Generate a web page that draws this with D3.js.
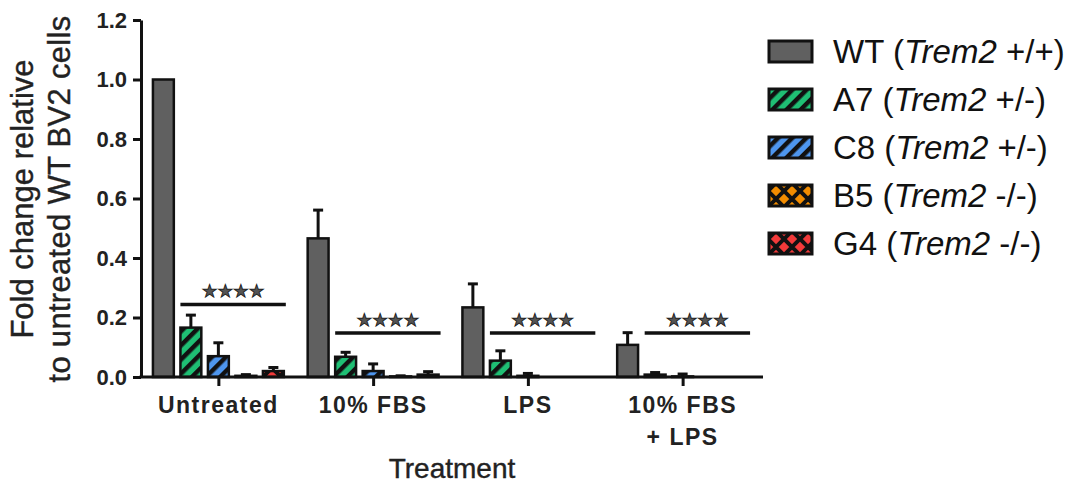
<!DOCTYPE html>
<html>
<head>
<meta charset="utf-8">
<script src="https://cdn.jsdelivr.net/npm/d3@7"></script>
<style>
  body { margin: 0; background: #fff; }
  text { font-family: "Liberation Sans", Arial, sans-serif; }
</style>
</head>
<body>
<div id="chart"></div>
<script>
var groups = ["Untreated", "10% FBS", "LPS", "10% FBS + LPS"];
var groupLabels = [["Untreated"], ["10% FBS"], ["LPS"], ["10% FBS", "+ LPS"]];
var clones = ["WT", "A7", "C8", "B5", "G4"];
var genotypes = ["+/+", "+/-", "+/-", "-/-", "-/-"];

// mean fold change per treatment, one array per clone
var wtMean = [1.0, 0.466, 0.234, 0.108];
var a7Mean = [0.166, 0.068, 0.055, 0.008];
var c8Mean = [0.070, 0.020, 0.004, 0.002];
var b5Mean = [0.004, 0.002, 0.0, 0.0];
var g4Mean = [0.020, 0.008, 0.0, 0.0];

// upper error (SEM)
var wtErr = [0, 0.095, 0.079, 0.041];
var a7Err = [0.042, 0.015, 0.033, 0.007];
var c8Err = [0.045, 0.024, 0.008, 0.008];
var b5Err = [0.004, 0.002, 0, 0];
var g4Err = [0.012, 0.010, 0, 0];

// height of the **** bar in each group
var sigLevels = [0.244, 0.148, 0.148, 0.148];
var yTicks = [0, 0.2, 0.4, 0.6, 0.8, 1.0, 1.2];

var means = [wtMean, a7Mean, c8Mean, b5Mean, g4Mean];
var errs = [wtErr, a7Err, c8Err, b5Err, g4Err];

var colour = d3.scaleOrdinal()
    .domain(clones)
    .range(["#606060", "#1fbf74", "#4e96ee", "#f28c00", "#f23a3a"]);
var hatch = ["solid", "stripe", "stripe", "cross", "cross"];

var width = 1081;
var height = 484;

var svg = d3.select("#chart")
    .append("svg")
    .attr("width", width)
    .attr("height", height);

var defs = svg.append("defs");

clones.forEach(function (c, i) {
    if (hatch[i] == "stripe") {
        var p = defs.append("pattern")
            .attr("id", "pat-" + c)
            .attr("patternUnits", "userSpaceOnUse")
            .attr("width", 10)
            .attr("height", 10)
            .attr("patternTransform", "rotate(45)");
        p.append("rect").attr("width", 10).attr("height", 10).attr("fill", colour(c));
        p.append("rect").attr("x", 0).attr("width", 4.5).attr("height", 10).attr("fill", "#111");
    } else if (hatch[i] == "cross") {
        var q = defs.append("pattern")
            .attr("id", "pat-" + c)
            .attr("patternUnits", "userSpaceOnUse")
            .attr("width", 16)
            .attr("height", 16);
        q.append("rect").attr("width", 16).attr("height", 16).attr("fill", colour(c));
        q.append("path")
            .attr("d", "M-2,-2L18,18M18,-2L-2,18")
            .attr("stroke", "#111")
            .attr("stroke-width", 4);
    }
});

function fillFor(i) {
    if (hatch[i] == "solid")
        return colour(clones[i]);
    return "url(#pat-" + clones[i] + ")";
}

var y = d3.scaleLinear()
    .domain([0, 1.2])
    .range([377, 20]);

var x = d3.scalePoint()
    .domain(groups)
    .range([141, 760])
    .padding(0.5);

var xInner = d3.scaleBand()
    .domain(clones)
    .range([-68.75, 68.75])
    .paddingInner(0.24)
    .paddingOuter(0.12);

// flatten into bar records
var bars = [];
groups.forEach(function (g, gi) {
    clones.forEach(function (c, ci) {
        bars.push({ group: g, clone: c, ci: ci, value: means[ci][gi], err: errs[ci][gi] });
    });
});

var plot = svg.append("g");

var barG = plot.selectAll("g.bar")
    .data(bars)
    .enter()
    .append("g")
    .attr("class", "bar");

// error bars (upper only) drawn under the bars
barG.filter(function (d) { return d.err > 0; })
    .append("line")
    .attr("x1", function (d) { return x(d.group) + xInner(d.clone) + xInner.bandwidth() / 2; })
    .attr("x2", function (d) { return x(d.group) + xInner(d.clone) + xInner.bandwidth() / 2; })
    .attr("y1", function (d) { return y(d.value); })
    .attr("y2", function (d) { return y(d.value + d.err); })
    .attr("stroke", "#111")
    .attr("stroke-width", 3);

barG.filter(function (d) { return d.err > 0; })
    .append("line")
    .attr("x1", function (d) { return x(d.group) + xInner(d.clone) + xInner.bandwidth() / 2 - 5; })
    .attr("x2", function (d) { return x(d.group) + xInner(d.clone) + xInner.bandwidth() / 2 + 5; })
    .attr("y1", function (d) { return y(d.value + d.err); })
    .attr("y2", function (d) { return y(d.value + d.err); })
    .attr("stroke", "#111")
    .attr("stroke-width", 3);

barG.append("rect")
    .attr("x", function (d) { return x(d.group) + xInner(d.clone); })
    .attr("y", function (d) { return y(d.value); })
    .attr("width", xInner.bandwidth())
    .attr("height", function (d) { return y(0) - y(d.value); })
    .attr("fill", function (d) { return fillFor(d.ci); })
    .attr("stroke", "#111")
    .attr("stroke-width", 2.5);

// significance lines
var sig = plot.selectAll("g.sig")
    .data(groups)
    .enter()
    .append("g")
    .attr("class", "sig");

sig.append("line")
    .attr("x1", function (d) { return x(d) + xInner("A7"); })
    .attr("x2", function (d) { return x(d) + xInner("G4") + xInner.bandwidth() + 2; })
    .attr("y1", function (d, i) { return y(sigLevels[i]); })
    .attr("y2", function (d, i) { return y(sigLevels[i]); })
    .attr("stroke", "#111")
    .attr("stroke-width", 3.5);

sig.append("text")
    .attr("x", function (d) { return x(d) + (xInner("A7") + xInner("G4") + xInner.bandwidth()) / 2 + 1; })
    .attr("y", function (d, i) { return y(sigLevels[i]) - 7; })
    .attr("text-anchor", "middle")
    .style("font-family", "'DejaVu Sans', sans-serif")
    .style("font-size", "17.5px")
    .attr("fill", "#555")
    .attr("stroke", "#222")
    .attr("stroke-width", 0.9)
    .text("★★★★");

// y axis
var yAxis = svg.append("g")
    .attr("transform", "translate(141,0)")
    .call(d3.axisLeft(y)
        .tickValues(yTicks)
        .tickFormat(d3.format(".1f"))
        .tickSize(8)
        .tickSizeOuter(0)
        .tickPadding(6));

yAxis.select(".domain").attr("stroke", "#111").attr("stroke-width", 3);
yAxis.selectAll(".tick line").attr("stroke", "#111").attr("stroke-width", 3);
yAxis.selectAll(".tick text")
    .attr("fill", "#222")
    .style("font-family", "'Liberation Sans', Arial, sans-serif")
    .style("font-size", "22px")
    .style("font-weight", "bold");

// x axis
var xAxis = svg.append("g")
    .attr("transform", "translate(0,377)")
    .call(d3.axisBottom(x).tickSize(9).tickSizeOuter(0).tickFormat(""));

xAxis.select(".domain").remove();
xAxis.append("line")
    .attr("x1", 139.5)
    .attr("x2", 763)
    .attr("stroke", "#111")
    .attr("stroke-width", 3);
xAxis.selectAll(".tick line").attr("stroke", "#111").attr("stroke-width", 3);

var xl = svg.selectAll("text.xlab")
    .data(groups)
    .enter()
    .append("text")
    .attr("class", "xlab")
    .attr("text-anchor", "middle")
    .attr("fill", "#222")
    .style("font-size", "23px")
    .style("font-weight", "bold")
    .style("letter-spacing", "1.5px");

xl.selectAll("tspan")
    .data(function (d, i) { return groupLabels[i].map(function (t) { return { g: d, t: t }; }); })
    .enter()
    .append("tspan")
    .attr("x", function (d) { return x(d.g); })
    .attr("y", function (d, i) { return 413 + i * 32; })
    .text(function (d) { return d.t; });

svg.append("text")
    .attr("x", 452)
    .attr("y", 478)
    .attr("text-anchor", "middle")
    .attr("fill", "#222")
    .attr("stroke", "#222")
    .attr("stroke-width", 0.4)
    .style("font-size", "28px")
    .text("Treatment");

// y title
var yt = svg.append("g")
    .attr("transform", "translate(33,199) rotate(-90)")
    .attr("fill", "#222")
    .attr("stroke", "#222")
    .attr("stroke-width", 0.4);
yt.append("text")
    .attr("text-anchor", "middle")
    .style("font-size", "31px")
    .text("Fold change relative");
yt.append("text")
    .attr("y", 37)
    .attr("text-anchor", "middle")
    .style("font-size", "31px")
    .style("letter-spacing", "0.3px")
    .text("to untreated WT BV2 cells");

// legend
var legend = svg.selectAll("g.legend")
    .data(clones)
    .enter()
    .append("g")
    .attr("class", "legend")
    .attr("transform", function (d, i) { return "translate(768," + (63 + i * 48) + ")"; });

legend.append("rect")
    .attr("x", 1)
    .attr("y", -22)
    .attr("width", 43)
    .attr("height", 21)
    .attr("fill", function (d, i) { return fillFor(i); })
    .attr("stroke", "#111")
    .attr("stroke-width", 3);

var lt = legend.append("text")
    .attr("x", 65)
    .attr("y", 0)
    .attr("fill", "#111")
    .style("font-size", "33px");

lt.append("tspan").text(function (d) { return d + " ("; });
lt.append("tspan").style("font-style", "italic").text("Trem2");
lt.append("tspan").text(function (d, i) { return " " + genotypes[i] + ")"; });
</script>
</body>
</html>
